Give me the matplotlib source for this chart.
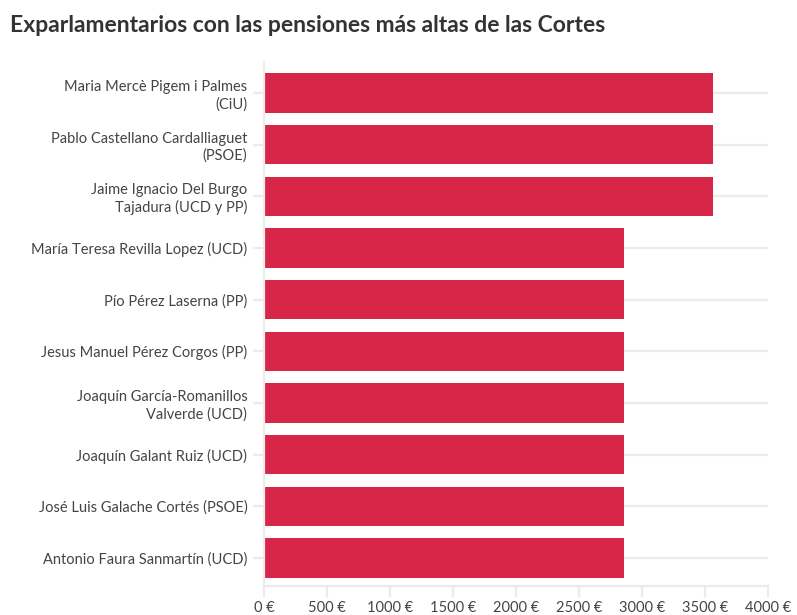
import matplotlib
matplotlib.use("Agg")
from matplotlib import pyplot as plt

nombres = ["Maria Mercè Pigem i Palmes\n(CiU)",
           "Pablo Castellano Cardalliaguet\n(PSOE)",
           "Jaime Ignacio Del Burgo\nTajadura (UCD y PP)",
           "María Teresa Revilla Lopez (UCD)",
           "Pío Pérez Laserna (PP)",
           "Jesus Manuel Pérez Corgos (PP)",
           "Joaquín García-Romanillos\nValverde (UCD)",
           "Joaquín Galant Ruiz (UCD)",
           "José Luis Galache Cortés (PSOE)",
           "Antonio Faura Sanmartín (UCD)"]
pensiones = [3565, 3565, 3565, 2855, 2855, 2855, 2855, 2855, 2855, 2855]
ticks = [0, 500, 1000, 1500, 2000, 2500, 3000, 3500, 4000]

plt.rcParams['font.family'] = ['Lato', 'DejaVu Sans']
fig = plt.figure(figsize=(7.97, 6.15), dpi=100)
ax = fig.add_axes([264/797, 1-586/615, 504/797, (586-62)/615])

pos = list(range(len(nombres)))
ax.grid(axis='y', color='#ebebeb', linewidth=1.6, zorder=0)
ax.barh(pos, pensiones, height=0.76, color='#d82648', zorder=2)
ax.set_xlim(0, 4000)
ax.set_ylim(9.54, -0.6)
ax.set_yticks(pos)
ax.set_yticklabels(nombres, fontsize=10.5, color='#444444', linespacing=1.25)
ax.set_xticks(ticks)
ax.set_xticklabels(["%d €" % t for t in ticks], fontsize=10.5, color='#444444')
ax.tick_params(axis='y', length=8, color='#ebebeb', width=1.6, pad=4)
ax.tick_params(axis='x', length=8, color='#ebebeb', width=1.6, pad=3)
for s in ['top', 'right']:
    ax.spines[s].set_visible(False)
for s in ['left', 'bottom']:
    ax.spines[s].set_color('#ebebeb')
    ax.spines[s].set_linewidth(1.6)

fig.text(0.012, 0.975, "Exparlamentarios con las pensiones más altas de las Cortes",
         fontsize=16.5, fontweight='bold', color='#333333', va='top')
fig.savefig("out.png", dpi=100)
